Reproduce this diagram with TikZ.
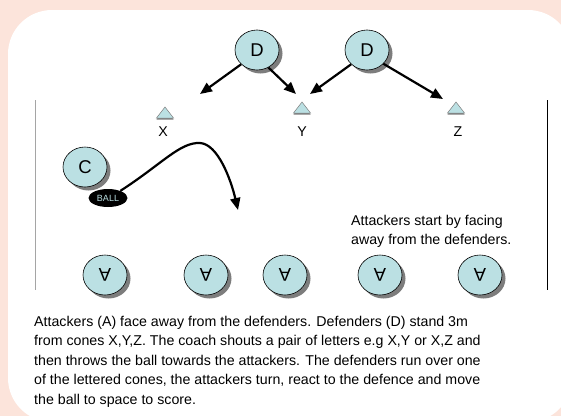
\documentclass[tikz,border=0pt]{standalone}
\usepackage{fontspec}
\setmainfont{Liberation Sans}
\usetikzlibrary{arrows.meta,shapes.geometric,shadows}
\definecolor{pinkbg}{RGB}{252,228,219}
\definecolor{playerfill}{RGB}{187,224,227}
\definecolor{shadegray}{RGB}{125,125,125}
\definecolor{sideline}{RGB}{165,165,165}
\tikzset{
  player/.style={ellipse, draw=black, line width=0.6pt, fill=playerfill,
    minimum width=44pt, minimum height=40pt, inner sep=0pt,
    font=\fontsize{18.5}{18.5}\selectfont,
    general shadow={fill=shadegray, shadow xshift=3.5pt, shadow yshift=-3.5pt}},
  ballnode/.style={ellipse, fill=black, minimum width=39pt, minimum height=18pt,
    inner sep=0pt, text=playerfill, font=\fontsize{9}{9}\selectfont},
  conelabel/.style={anchor=base, inner sep=0pt, font=\fontsize{14.2}{14.2}\selectfont},
  runarrow/.style={line width=2.2pt, -{Triangle[length=12pt,width=10pt]}},
  note/.style={anchor=north west, inner sep=0pt, align=left,
    font=\fontsize{14.2}{19.4}\selectfont},
  cone/.pic={
    \fill[shadegray] (-8.5,6.5) -- (8.5,6.5) -- (0,-4.5) -- cycle;
    \draw[fill=playerfill, draw=shadegray, line width=0.5pt] (-8.5,5) -- (8.5,5) -- (0,-6) -- cycle;
  },
}
\begin{document}
\begin{tikzpicture}[x=1pt,y=-1pt]
  \useasboundingbox (0,0) rectangle (561,416);
  \clip (0,0) rectangle (561,416);
  % page background and white panel
  \fill[pinkbg] (0,0) rectangle (561,416);
  \fill[white, rounded corners=44pt] (8,10) rectangle (572,422);

  % side lines of the playing area
  \draw[sideline, line width=0.8pt] (35,100) -- (35,290);
  \draw[black, line width=0.8pt] (547,100) -- (547,290);

  % defenders
  \node[player] (D1) at (257,50) {D};
  \node[player] (D2) at (367,50) {D};

  % cones
  \pic at (165,113) {cone};
  \pic at (302,108) {cone};
  \pic at (456,108) {cone};
  \node[conelabel] (X) at (163,136) {X};
  \node[conelabel] (Y) at (302,136) {Y};
  \node[conelabel] (Z) at (458,136) {Z};

  % arrow end points
  \coordinate (tX) at (200,94);
  \coordinate (tY1) at (296,94);
  \coordinate (tY2) at (310,94);
  \coordinate (tZ) at (443,99);
  \coordinate (tB) at (238,210);

  \draw[runarrow] (D1.222) -- (tX);
  \draw[runarrow] (D1.-57) -- (tY1);
  \draw[runarrow] (D2.222) -- (tY2);
  \draw[runarrow] (D2.-40) -- (tZ);

  % coach and ball
  \node[player] (C) at (85,167) {C};
  \node[ballnode] (ball) at (108,198) {BALL};
  \draw[runarrow] (ball.30) .. controls (162,164) and (180,142) .. (200,143)
                  .. controls (218,144) and (231,180) .. (tB);

  % attackers, facing away
  \foreach \n/\x in {1/105,2/206,3/285,4/380,5/480}
    \node[player] (A\n) at (\x,275) {\rotatebox[origin=c]{180}{A}};

  % notes
  \node[note] (start) at (351,215) {Attackers start by facing\\away from the defenders.};
  \node[note] (desc) at (34,316) {Attackers (A) face away from the defenders. Defenders (D) stand 3m\\
    from cones X,Y,Z. The coach shouts a pair of letters e.g X,Y or X,Z and\\
    then throws the ball towards the attackers. The defenders run over one\\
    of the lettered cones, the attackers turn, react to the defence and move\\
    the ball to space to score.};
\end{tikzpicture}
\end{document}
